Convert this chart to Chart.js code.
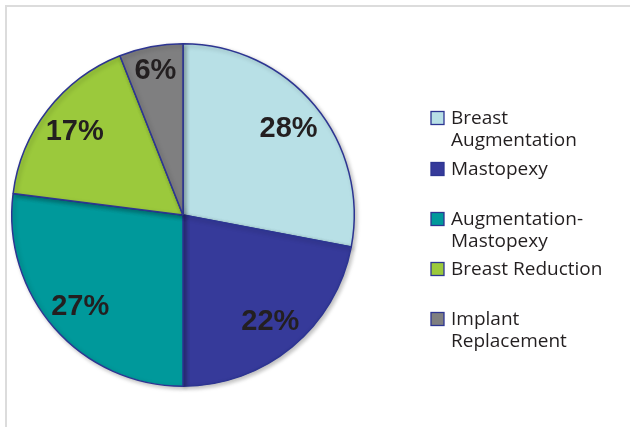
<!DOCTYPE html>
<html>
<head>
<meta charset="utf-8">
<script src="https://cdn.jsdelivr.net/npm/chart.js@4"></script>
<style>
    html, body { margin: 0; padding: 0; background: #fff; }
    #wrap { position: relative; width: 630px; height: 427px; }
    #frame { position: absolute; left: 5px; top: 5px; right: 0; bottom: 0;
             border-top: 2px solid #dcdcdc; border-left: 2px solid #dcdcdc; }
    canvas { position: absolute; left: 0; top: 0; }
</style>
</head>
<body>
<div id="wrap">
    <div id="frame"></div>
    <canvas id="pie-chart" width="630" height="427"></canvas>
</div>
<script>
    "use strict";

    // Data
    var categories = [["Breast", "Augmentation"], ["Mastopexy"], ["Augmentation-", "Mastopexy"], ["Breast Reduction"], ["Implant", "Replacement"]];
    var shares = [28, 22, 27, 17, 6];
    var sliceColors = ["#b8e0e6", "#363a9a", "#00999b", "#9bc93c", "#7f7f80"];

    // Percent labels inside the slices
    var pctLabels = {
        id: "pctLabels",
        afterDatasetsDraw: function (chart) {
            var ctx = chart.ctx;
            var arcs = chart.getDatasetMeta(0).data;
            ctx.save();
            ctx.font = "bold 29px 'Liberation Sans', Arial, sans-serif";
            ctx.fillStyle = "#231f20";
            ctx.textAlign = "center";
            ctx.textBaseline = "middle";
            arcs.forEach(function (arc, i) {
                var mid = (arc.startAngle + arc.endAngle) / 2;
                var r = arc.outerRadius * (shares[i] < 10 ? 0.86 : 0.8);
                ctx.fillText(shares[i] + "%", arc.x + Math.cos(mid) * r, arc.y + Math.sin(mid) * r + 1);
            });
            ctx.restore();
        }
    };

    // Legend on the right, uneven spacing like the original
    var sideLegend = {
        id: "sideLegend",
        afterDraw: function (chart) {
            var ctx = chart.ctx;
            var tops = [118, 169, 219, 269, 319];
            ctx.save();
            ctx.font = "19px 'Open Sans', 'Noto Sans', sans-serif";
            ctx.textBaseline = "middle";
            categories.forEach(function (lines, i) {
                var y = tops[i];
                ctx.fillStyle = sliceColors[i];
                ctx.fillRect(431, y - 6.5, 13, 13);
                ctx.strokeStyle = "#2d3592";
                ctx.lineWidth = 1.3;
                ctx.strokeRect(431, y - 6.5, 13, 13);
                ctx.fillStyle = "#231f20";
                lines.forEach(function (t, j) {
                    ctx.fillText(t, 451, y + 1 + j * 22);
                });
            });
            ctx.restore();
        }
    };

    // Soft shadow under the pie
    var pieShadow = {
        id: "pieShadow",
        beforeDatasetsDraw: function (chart) {
            var ctx = chart.ctx;
            ctx.save();
            ctx.shadowColor = "rgba(0,0,0,0.25)";
            ctx.shadowBlur = 4;
            ctx.shadowOffsetX = 2;
            ctx.shadowOffsetY = 2;
        },
        afterDatasetsDraw: function (chart) {
            chart.ctx.restore();
        }
    };

    var ctx = document.getElementById("pie-chart").getContext("2d");
    var myChart = new Chart(ctx, {
        type: "pie",
        data: {
            labels: categories.map(function (l) { return l.join(" "); }),
            datasets: [{
                data: shares,
                backgroundColor: sliceColors,
                borderColor: "#2d3592",
                borderWidth: 1.5
            }]
        },
        options: {
            responsive: false,
            animation: false,
            layout: { padding: { left: 11, right: 275, top: 43, bottom: 40 } },
            plugins: {
                legend: { display: false },
                tooltip: { enabled: false }
            }
        },
        plugins: [pieShadow, pctLabels, sideLegend]
    });
</script>
</body>
</html>
